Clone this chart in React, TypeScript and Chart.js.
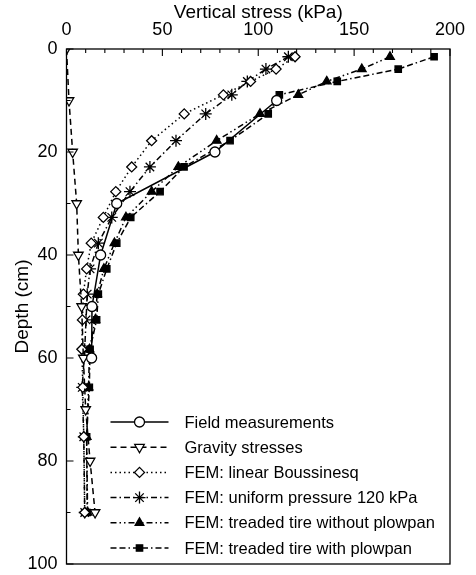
import React, { useEffect, useRef } from 'react';
import { Chart, registerables } from 'chart.js';
import { drawPoint } from 'chart.js/helpers';

Chart.register(...registerables);

const FONT = '"Liberation Sans", Arial, Helvetica, sans-serif';

// ---- data ----
const xTickValues = [0, 50, 100, 150, 200];
const yTickValues = [0, 20, 40, 60, 80, 100];

const fieldDepth = [10, 20, 30, 40, 50, 60];
const fieldStress = [109.6, 77.4, 26.2, 17.8, 13.3, 13.1];

const gravityDepth = [0, 10, 20, 30, 40, 50, 60, 70, 80, 90];
const gravityStress = [0, 1.3, 3.2, 5.3, 6.2, 7.9, 8.8, 10, 12.3, 14.9];

const femDepth = [1.5, 3.9, 6.3, 8.9, 12.6, 17.8, 22.9, 27.7, 32.7, 37.7, 42.7, 47.6, 52.6, 58.3, 65.7, 75.3, 90];
const boussinesqStress = [119.2, 109.3, 96, 81.8, 61.4, 44.4, 34, 25.7, 19.2, 12.9, 10.5, 8.8, 8.3, 8, 8.5, 9, 9.5];
const uniformStress = [115.7, 104, 94.3, 86.2, 72.6, 57.1, 43.5, 33.1, 23.6, 16.6, 12.3, 10.8, 10.2, 9.5, 8.2, 9, 9.5];
const noPlowpanStress = [168.7, 154, 135.7, 120.9, 100.9, 78.3, 58.3, 44.4, 31, 25, 19.5, 16, 15, 12, 11.5, 10.5, 11];
const plowpanStress = [191.7, 173, 141.2, 111, 105.2, 85.3, 61.3, 48.8, 33.5, 26.2, 21, 16.6, 15.7, 12.3, 11.9, 10.5, 10.8];

const seriesLabels = [
  'Field measurements',
  'Gravity stresses',
  'FEM: linear Boussinesq',
  'FEM: uniform pressure 120 kPa',
  'FEM: treaded tire without plowpan',
  'FEM: treaded tire with plowpan',
];

const pts = (xs: number[], ys: number[]) => xs.map((x, i) => ({ x, y: ys[i] }));

const framePlugin = {
  id: 'frameTicks',
  afterDraw(chart: any) {
    const { ctx, chartArea: a, scales } = chart;
    ctx.save();
    ctx.strokeStyle = '#000';
    ctx.lineWidth = 1.3;
    ctx.setLineDash([]);
    ctx.strokeRect(a.left, a.top, a.right - a.left, a.bottom - a.top);
    ctx.lineWidth = 1.1;
    ctx.beginPath();
    for (let v = 0; v <= 200; v += 10) {
      const px = scales.x.getPixelForValue(v);
      const len = v % 50 === 0 ? 7 : 4;
      ctx.moveTo(px, a.top);
      ctx.lineTo(px, a.top + len);
    }
    for (let v = 0; v <= 100; v += 10) {
      const py = scales.y.getPixelForValue(v);
      const len = v % 20 === 0 ? 7 : 4;
      ctx.moveTo(a.left, py);
      ctx.lineTo(a.left + len, py);
    }
    ctx.stroke();
    ctx.restore();
  },
};

const legendPlugin = {
  id: 'inlineLegend',
  afterDraw(chart: any) {
    const { ctx, chartArea: a } = chart;
    const xs = a.left + 44;
    const xe = a.left + 102;
    const xm = (xs + xe) / 2;
    const tx = a.left + 118;
    const y0 = a.top + 373;
    const dy = 25.2;
    chart.data.datasets.forEach((ds: any, i: number) => {
      const y = y0 + i * dy;
      ctx.save();
      ctx.strokeStyle = '#000';
      ctx.lineWidth = ds.borderWidth;
      ctx.setLineDash(ds.borderDash || []);
      ctx.beginPath();
      ctx.moveTo(xs, y);
      ctx.lineTo(xe, y);
      ctx.stroke();
      ctx.setLineDash([]);
      ctx.fillStyle = ds.pointBackgroundColor;
      ctx.strokeStyle = '#000';
      ctx.lineWidth = ds.pointBorderWidth;
      drawPoint(ctx, {
        pointStyle: ds.pointStyle,
        rotation: ds.pointRotation || 0,
        radius: ds.pointRadius,
        borderWidth: ds.pointBorderWidth,
      }, xm, y);
      ctx.fillStyle = '#000';
      ctx.font = `16.5px ${FONT}`;
      ctx.textAlign = 'left';
      ctx.textBaseline = 'middle';
      ctx.fillText(ds.label, tx, y + 1);
      ctx.restore();
    });
  },
};

const base = {
  borderColor: '#000',
  pointBorderColor: '#000',
  borderWidth: 1.5,
  pointBorderWidth: 1.3,
  fill: false,
  tension: 0,
  showLine: true,
};

export default function App() {
  const ref = useRef<HTMLCanvasElement | null>(null);
  useEffect(() => {
    if (!ref.current) return;
    const chart = new Chart(ref.current, {
      type: 'line',
      data: {
        datasets: [
          { ...base, label: seriesLabels[0], data: pts(fieldStress, fieldDepth), borderDash: [], pointStyle: 'circle', pointRadius: 5, pointBackgroundColor: '#fff' },
          { ...base, label: seriesLabels[1], data: pts(gravityStress, gravityDepth), borderDash: [6, 4], pointStyle: 'triangle', pointRotation: 180, pointRadius: 5.5, pointBackgroundColor: '#fff' },
          { ...base, label: seriesLabels[2], data: pts(boussinesqStress, femDepth), borderDash: [1.5, 3], pointStyle: 'rectRot', pointRadius: 5, pointBackgroundColor: '#fff' },
          { ...base, label: seriesLabels[3], data: pts(uniformStress, femDepth), borderDash: [6, 3, 1.5, 3], pointStyle: 'star', pointRadius: 6, pointBackgroundColor: '#000' },
          { ...base, label: seriesLabels[4], data: pts(noPlowpanStress, femDepth), borderDash: [6, 3, 1.5, 3, 1.5, 3], pointStyle: 'triangle', pointRadius: 5, pointBackgroundColor: '#000' },
          { ...base, label: seriesLabels[5], data: pts(plowpanStress, femDepth), borderDash: [6, 3, 6, 3, 1.5, 3], pointStyle: 'rect', pointRadius: 4.5, pointBackgroundColor: '#000' },
        ],
      },
      options: {
        animation: false,
        responsive: true,
        maintainAspectRatio: false,
        layout: { padding: { left: 0, right: 26, top: 0, bottom: 11 } },
        plugins: { legend: { display: false }, tooltip: { enabled: false } },
        scales: {
          x: {
            type: 'linear',
            position: 'top',
            min: 0,
            max: 200,
            afterFit: (s: any) => { s.height = 49; s.paddingLeft = 0; s.paddingRight = 0; },
            afterBuildTicks: (s: any) => { s.ticks = xTickValues.map((v) => ({ value: v })); },
            grid: { display: false, drawTicks: false },
            border: { display: false },
            ticks: { color: '#000', padding: 8, font: { family: FONT, size: 18 } },
            title: { display: true, text: 'Vertical stress (kPa)', color: '#000', font: { family: FONT, size: 19 }, padding: { top: 1, bottom: 0 } },
          },
          y: {
            type: 'linear',
            reverse: true,
            min: 0,
            max: 100,
            afterFit: (s: any) => { s.width = 66.5; s.paddingTop = 0; s.paddingBottom = 0; },
            afterBuildTicks: (s: any) => { s.ticks = yTickValues.map((v) => ({ value: v })); },
            grid: { display: false, drawTicks: false },
            border: { display: false },
            ticks: { color: '#000', padding: 9, font: { family: FONT, size: 18 } },
            title: { display: true, text: 'Depth (cm)', color: '#000', font: { family: FONT, size: 19 }, padding: { top: 11, bottom: 0 } },
          },
        },
      },
      plugins: [framePlugin, legendPlugin],
    } as any);
    return () => chart.destroy();
  }, []);
  return (
    <div style={{ position: 'absolute', left: 0, top: 0, width: 476, height: 575, background: '#fff' }}>
      <canvas ref={ref} />
    </div>
  );
}
